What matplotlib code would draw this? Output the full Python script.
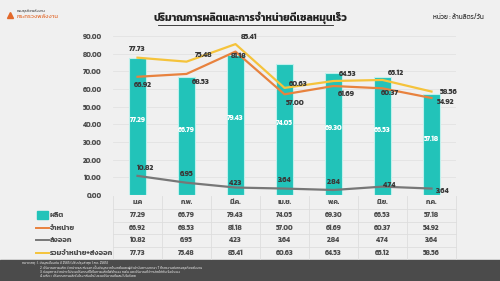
import matplotlib
matplotlib.use('Agg')
from matplotlib import pyplot as plt
from matplotlib.patches import Rectangle
from matplotlib.lines import Line2D

plt.rcParams['font.family'] = ['Kanit', 'DejaVu Sans']

months = ['ม.ค', 'ก.พ.', 'มี.ค.', 'เม.ย.', 'พ.ค.', 'มิ.ย.', 'ก.ค.']
production = [77.29, 66.79, 79.43, 74.05, 69.30, 66.53, 57.18]
sales = [66.92, 68.53, 81.18, 57.00, 61.69, 60.37, 54.92]
export = [10.82, 6.95, 4.23, 3.64, 2.84, 4.74, 3.64]
total = [77.73, 75.48, 85.41, 60.63, 64.53, 65.12, 58.56]
series_names = ['ผลิต', 'จำหน่าย', 'ส่งออก', 'รวมจำหน่าย+ส่งออก']
yticks = [0, 10, 20, 30, 40, 50, 60, 70, 80, 90]

BG = '#f0f0f0'
TEAL = '#22c3b9'
ORANGE = '#e8823e'
GREY = '#777777'
YELLOW = '#f5c33b'
TXT = '#3a3a3a'

W, H = 500, 281
fig = plt.figure(figsize=(5, 2.81), dpi=100, facecolor=BG)


def fx(px):
    return px / W


def fy(py):
    return 1 - py / H


ax = fig.add_axes([fx(113), fy(195), fx(456) - fx(113), fy(36) - fy(195)])
ax.set_facecolor(BG)
x = list(range(len(months)))

ax.bar(x, production, width=0.35, color=TEAL, edgecolor='#bff0ec', linewidth=0.8, zorder=2)
ax.plot(x, sales, color=ORANGE, lw=1.6, zorder=3)
ax.plot(x, export, color=GREY, lw=1.6, zorder=3)
ax.plot(x, total, color=YELLOW, lw=1.6, zorder=3)

ax.set_xlim(-0.5, len(months) - 0.5)
ax.set_ylim(0, 90)
ax.set_yticks(yticks)
ax.set_yticklabels(['%.2f' % v for v in yticks], fontsize=5, color='#505050', fontweight='bold')
ax.tick_params(axis='y', length=0, pad=8)
ax.set_xticks([])
ax.grid(axis='y', color='#e2e2e2', lw=0.6, zorder=0)
for s in ax.spines.values():
    s.set_visible(False)

# bar labels
for i, v in enumerate(production):
    ax.text(i, v * 0.55, '%.2f' % v, ha='center', va='center', color='white',
            fontsize=5, fontweight='bold', zorder=4)

lab = dict(fontsize=5.3, fontweight='bold', color=TXT, zorder=5, annotation_clip=False)
off_total = [(0, 6), (12, 5), (10, 5), (10, 3), (10, 5), (10, 5), (12, 0)]
off_sales = [(4, -6), (10, -6), (2, -3), (8, -6), (9, -6), (5, -3), (10, -3)]
off_export = [(6, 6), (0, 6), (0, 3), (0, 6), (0, 6), (5, 1), (8, -2)]
for i in x:
    ax.annotate('%.2f' % total[i], (i, total[i]), xytext=off_total[i],
                textcoords='offset points', ha='center', va='center', **lab)
    ax.annotate('%.2f' % sales[i], (i, sales[i]), xytext=off_sales[i],
                textcoords='offset points', ha='center', va='center', **lab)
    ax.annotate('%.2f' % export[i], (i, export[i]), xytext=off_export[i],
                textcoords='offset points', ha='center', va='center', **lab)

# data table under chart
col_w = (456 - 113) / len(months)
row_y = [202, 215, 228, 240, 253]
line_col = '#dddddd'
for k in range(len(months) + 1):
    xx = 113 + k * col_w
    fig.add_artist(Line2D([fx(xx), fx(xx)], [fy(196), fy(259)], color=line_col, lw=0.6))
for ry in [208.5, 221.5, 234, 246.5]:
    fig.add_artist(Line2D([fx(113), fx(456)], [fy(ry), fy(ry)], color=line_col, lw=0.6))

for k, m in enumerate(months):
    fig.text(fx(113 + (k + 0.5) * col_w), fy(row_y[0]), m, ha='center', va='center',
             fontsize=5, fontweight='bold', color='#505050')
rows = [production, sales, export, total]
for r, vals in enumerate(rows):
    for k, v in enumerate(vals):
        fig.text(fx(113 + (k + 0.5) * col_w), fy(row_y[r + 1]), '%.2f' % v, ha='center',
                 va='center', fontsize=5, fontweight='bold', color='#505050')
    fig.text(fx(50), fy(row_y[r + 1]), series_names[r], ha='left', va='center',
             fontsize=5.3, fontweight='bold', color='#505050')

fig.add_artist(Rectangle((fx(37), fy(219)), fx(11), fy(211) - fy(219), color=TEAL))
for r, c in zip([2, 3, 4], [ORANGE, GREY, YELLOW]):
    fig.add_artist(Line2D([fx(36), fx(49)], [fy(row_y[r]), fy(row_y[r])], color=c, lw=1.4))

# title and unit
fig.text(0.5, fy(18), 'ปริมาณการผลิตและการจำหน่ายดีเซลหมุนเร็ว', ha='center', va='center',
         fontsize=7.5, fontweight='bold', color='#222222')
fig.add_artist(Line2D([fx(158), fx(333)], [fy(25), fy(25)], color='#222222', lw=0.6))
fig.text(fx(484), fy(17), 'หน่วย : ล้านลิตร/วัน', ha='right', va='center', fontsize=4.7,
         color='#333333')

# logo
fig.add_artist(Line2D([fx(10)], [fy(15)], marker='^', markersize=5, color='#e2682a'))
fig.text(fx(17), fy(11), 'กรมธุรกิจพลังงาน', ha='left', va='center', fontsize=2.8, color='#444444')
fig.text(fx(17), fy(16.5), 'กระทรวงพลังงาน', ha='left', va='center', fontsize=4.2, color='#e2682a')

# footer band
fig.add_artist(Rectangle((0, 0), 1, fy(260), color='#4b4b4b'))
notes = ['หมายเหตุ : 1. ข้อมูลเบื้องต้น ปี 2565 (ปรับปรุงล่าสุด 1 ส.ค. 2565)',
         '2. ปริมาณการผลิต จำหน่ายและส่งออก เป็นข้อมูลจากโรงกลั่นและผู้ค้าน้ำมันตามมาตรา 7 ที่รายงานต่อกรมธุรกิจพลังงาน',
         '3. ข้อมูลการจำหน่าย ไม่รวมปริมาณที่ใช้ในการผลิตไฟฟ้าของ กฟผ. และปริมาณที่จำหน่ายให้กับเรือประมง',
         '4. ผลิต = ปริมาณการผลิตในโรงกลั่นน้ำมันรวมปริมาณที่ผสมไบโอดีเซล']
fig.text(fx(22), fy(263), notes[0], ha='left', va='center', fontsize=2.4, color='#dddddd')
for i, n in enumerate(notes[1:]):
    fig.text(fx(40), fy(267.5 + i * 4.3), n, ha='left', va='center', fontsize=2.4, color='#dddddd')

fig.savefig('out.png', dpi=100, facecolor=BG)
